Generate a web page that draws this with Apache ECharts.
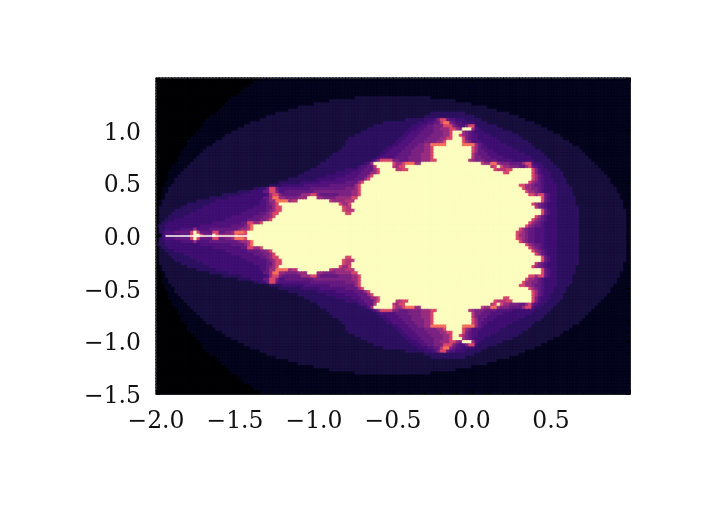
<!DOCTYPE html>
<html><head><meta charset="utf-8">
<style>html,body{margin:0;padding:0;background:#fff}#c{width:708px;height:509px}</style>
<script src="https://cdn.jsdelivr.net/npm/echarts@6/dist/echarts.min.js"></script>
</head><body><div id="c"></div>
<script>
const xTicks=[-2,1];
const yTicks=[-1.5,1.5];
const levelColors=['#000004','#04041c','#170f3c','#2d1160','#3f0f72','#51127c','#641a80','#7b2382','#982d80','#b73779','#d9466b','#f7705c','#fcfdbf'];
const columnCount=150;
// thin bright filament along the real axis
const filamentX=[-1.94,-1.4];
const filamentY=[0,0];
// escape-band runs, one row per line from top to the centre line: "level:endColumn"
const upperRows=[
"0:33 1:150","0:31 1:150","0:30 1:150","0:28 1:150","0:27 1:150","0:26 1:150",
"0:24 1:63 2:87 1:150","0:23 1:55 2:95 1:150","0:22 1:50 2:100 1:150","0:21 1:45 2:105 1:150","0:20 1:42 2:108 1:150",
"0:19 1:38 2:87 3:98 2:112 1:150",
"0:17 1:35 2:85 3:101 2:115 1:150",
"0:16 1:33 2:79 3:85 4:88 5:89 7:90 a:92 6:93 5:95 4:98 3:103 2:117 1:150",
"0:15 1:30 2:72 3:83 4:86 5:88 6:90 9:91 b:93 7:94 6:95 5:97 4:101 3:105 2:120 1:150",
"0:15 1:28 2:69 3:81 4:84 5:86 6:88 7:91 a:94 7:95 6:96 5:98 7:99 a:101 4:102 3:108 2:122 1:150",
"0:14 1:26 2:67 3:80 4:83 5:85 6:88 7:90 8:93 a:95 8:96 7:97 c:100 8:101 5:102 4:103 3:110 2:124 1:150",
"0:13 1:24 2:65 3:79 4:81 5:84 6:88 7:91 8:93 a:94 c:97 8:98 7:99 6:100 5:101 4:104 3:113 2:126 1:150",
"0:12 1:22 2:63 3:78 4:80 5:83 6:87 7:91 8:93 a:94 c:96 a:97 8:98 7:99 6:100 5:102 4:106 3:115 2:128 1:150",
"0:11 1:21 2:61 3:77 4:79 5:82 6:86 7:90 8:92 a:94 c:97 a:98 7:99 6:100 5:102 4:108 3:116 2:129 1:150",
"0:10 1:19 2:60 3:76 4:78 5:81 6:85 7:89 8:91 a:92 c:97 a:98 8:99 7:100 5:103 4:109 3:118 2:131 1:150",
"0:10 1:18 2:60 3:75 4:77 5:80 6:83 7:85 8:87 b:92 c:97 b:101 8:102 6:103 5:104 4:111 3:119 2:132 1:150",
"0:9 1:16 2:59 3:73 4:75 5:79 6:82 7:85 8:87 a:88 c:100 a:101 8:102 6:103 5:105 4:113 3:120 2:134 1:150",
"0:8 1:15 2:58 3:72 4:74 5:78 6:81 7:85 8:87 a:88 c:100 a:101 8:102 6:104 5:107 4:115 3:122 2:135 1:150",
"0:8 1:14 2:56 3:71 4:73 5:77 6:81 7:84 8:87 a:88 c:100 9:101 7:102 6:105 5:108 4:117 3:123 2:136 1:150",
"0:7 1:13 2:55 3:70 4:71 5:76 6:80 7:84 8:87 a:88 c:100 9:101 7:103 6:106 5:110 4:119 3:124 2:137 1:150",
"0:7 1:12 2:54 3:68 4:69 5:70 7:71 a:75 7:77 6:80 7:84 8:87 a:89 c:99 9:100 8:101 7:104 6:108 5:113 4:120 3:125 2:138 1:150",
"0:6 1:11 2:52 3:66 4:67 5:68 8:69 c:75 a:76 8:78 a:79 b:82 8:84 c:103 9:104 8:106 b:108 8:109 7:112 6:116 8:117 a:119 5:120 4:122 3:126 2:139 1:150",
"0:5 1:10 2:51 3:64 4:65 5:67 6:69 9:70 c:75 9:76 8:77 a:79 c:106 9:107 a:108 c:109 a:110 8:112 7:115 6:117 8:118 a:119 6:120 5:121 4:123 3:127 2:140 1:150",
"0:5 1:9 2:49 3:60 4:64 5:66 6:69 8:70 a:71 c:76 9:78 a:80 c:107 a:108 9:111 a:113 c:119 a:120 7:121 5:122 4:124 3:128 2:141 1:150",
"0:4 1:8 2:47 3:57 4:62 5:65 6:68 8:70 a:71 c:110 a:112 c:119 a:120 7:121 5:122 4:125 3:129 2:142 1:150",
"0:4 1:7 2:45 3:54 4:60 5:64 6:67 8:68 a:69 c:119 a:120 8:121 6:122 5:123 4:125 3:129 2:143 1:150",
"0:4 1:6 2:42 3:51 4:57 5:63 6:66 8:67 a:68 c:119 a:120 8:121 6:122 5:123 4:126 3:130 2:144 1:150",
"0:3 1:6 2:39 3:46 4:52 5:60 6:64 8:65 a:66 c:118 a:119 8:120 7:121 6:122 5:123 4:126 3:130 2:144 1:150",
"0:3 1:5 2:36 3:40 4:47 5:55 6:63 8:64 a:65 c:115 a:117 8:119 7:120 6:122 5:123 4:127 3:131 2:145 1:150",
"0:2 1:4 2:31 3:33 4:35 6:36 a:38 6:39 5:49 6:60 7:63 8:64 a:65 c:116 a:117 8:119 7:121 6:122 5:123 4:127 3:132 2:146 1:150",
"0:2 1:4 2:26 3:30 4:34 6:36 a:38 7:39 5:41 6:50 7:62 8:64 a:65 c:117 a:118 8:120 7:121 6:122 5:123 4:127 3:132 2:146 1:150",
"0:2 1:3 2:21 3:27 4:35 5:36 8:37 a:39 7:40 6:46 8:49 a:51 7:52 6:58 7:62 8:64 a:65 c:118 a:120 8:121 a:123 6:124 5:125 4:127 3:132 2:147 1:150",
"0:2 1:3 2:17 3:23 4:34 6:36 8:37 b:39 8:41 7:45 8:48 c:51 8:53 7:57 8:62 a:64 c:122 a:123 6:124 5:125 4:127 3:133 2:147 1:150",
"0:1 1:2 2:13 3:19 4:33 5:35 6:36 8:38 b:42 8:43 9:45 c:55 9:56 8:60 9:63 c:122 a:123 6:124 5:125 4:127 3:133 2:148 1:150",
"0:1 1:2 2:10 3:17 4:33 5:35 6:36 7:37 8:38 a:39 c:58 a:59 8:61 a:62 c:119 a:120 8:121 7:122 6:123 5:124 4:127 3:133 2:148 1:150",
"0:1 2:8 3:15 4:31 5:35 6:37 8:38 a:40 c:59 a:60 9:62 c:120 9:121 7:122 6:123 5:124 4:127 3:134 2:148 1:150",
"0:1 2:6 3:13 4:29 5:35 6:36 7:37 8:38 a:40 c:59 a:60 9:63 c:122 a:123 6:124 5:125 4:127 3:134 2:149 1:150",
"0:1 2:5 3:11 4:27 5:33 6:35 7:36 8:37 a:39 c:60 a:62 c:122 a:123 6:124 5:125 4:127 3:134 2:149 1:150",
"0:1 2:4 3:9 4:24 5:31 6:34 7:36 8:37 a:38 c:120 a:121 8:122 6:123 5:124 4:127 3:134 2:149 1:150",
"0:1 2:3 3:6 4:22 5:29 6:33 7:35 8:36 a:37 c:119 a:120 8:121 7:122 6:123 5:124 4:127 3:134 2:149 1:150",
"0:1 2:2 3:4 4:18 5:27 6:29 a:31 8:33 a:34 c:118 a:119 8:120 7:121 6:122 5:123 4:127 3:134 2:149 1:150",
"2:1 3:3 4:14 5:24 6:28 7:29 9:30 b:31 c:117 a:118 8:119 7:120 6:122 5:123 4:127 3:134 2:149 1:150",
"0:1 3:3 4:8 5:12 8:13 5:17 6:26 7:27 8:29 9:30 b:31 c:115 a:116 8:117 7:118 6:120 5:123 4:127 3:134 2:149 1:150",
"0:1 3:2 4:3 5:6 6:11 a:12 c:13 a:14 6:18 a:20 6:22 7:24 8:25 b:28 a:29 c:114 a:115 9:116 8:117 7:118 6:120 5:123 4:127 3:134 2:149 1:150"
];
const centreRow="0:1 1:2 4:3 5:8 6:11 a:12 c:14 a:15 7:18 c:19 a:20 8:25 b:26 a:29 c:114 a:115 8:117 7:118 6:120 5:123 4:127 3:134 2:149 1:150";
const rows=[...upperRows,centreRow,...upperRows.slice().reverse()];

const cells=[];
rows.forEach((r,j)=>{
  let start=0;
  r.split(' ').forEach(run=>{
    const [lv,end]=run.split(':');
    const level=parseInt(lv,16), stop=+end, col=levelColors[level];
    for(let i=start;i<stop;i++) cells.push({value:[i,j,level],itemStyle:{color:col,borderColor:col,borderWidth:0.7}});
    start=stop;
  });
});
const xCats=Array.from({length:columnCount},(_,i)=>i);
const yCats=rows.map((_,j)=>j);
const fmt=v=>v.toFixed(1).replace('-','\u2212');
const labelFont={fontFamily:'"DejaVu Serif",serif',fontSize:23.5,color:'#111'};
const frame={lineStyle:{color:'#222',width:1}};
const ticks={show:true,inside:true,length:4,lineStyle:{color:'#000',width:1}};
const minor={show:true,splitNumber:5,length:2,lineStyle:{color:'#000',width:1}};
const box={left:156,top:78,width:474,height:316};
const chart=echarts.init(document.getElementById('c'),null,{renderer:'canvas'});
chart.setOption({
  animation:false,backgroundColor:'#fff',
  grid:[Object.assign({},box),Object.assign({},box)],
  xAxis:[
    {type:'category',gridIndex:0,data:xCats,show:false},
    {type:'value',gridIndex:1,position:'bottom',min:xTicks[0],max:xTicks[1],interval:.5,axisLine:{onZero:false,...frame},axisTick:ticks,minorTick:minor,splitLine:{show:false},z:5,
     axisLabel:{...labelFont,margin:16,showMaxLabel:false,formatter:fmt}},
    {type:'value',gridIndex:1,position:'top',min:xTicks[0],max:xTicks[1],interval:.5,axisLine:{onZero:false,...frame},axisTick:ticks,minorTick:minor,splitLine:{show:false},z:5,axisLabel:{show:false}}
  ],
  yAxis:[
    {type:'category',gridIndex:0,data:yCats,inverse:true,show:false},
    {type:'value',gridIndex:1,position:'left',min:yTicks[0],max:yTicks[1],interval:.5,axisLine:{onZero:false,...frame},axisTick:ticks,minorTick:minor,splitLine:{show:false},z:5,
     axisLabel:{...labelFont,margin:15,showMaxLabel:false,verticalAlign:'top',lineHeight:6,formatter:fmt}},
    {type:'value',gridIndex:1,position:'right',min:yTicks[0],max:yTicks[1],interval:.5,axisLine:{onZero:false,...frame},axisTick:ticks,minorTick:minor,splitLine:{show:false},z:5,axisLabel:{show:false}}
  ],
  series:[
    {type:'heatmap',xAxisIndex:0,yAxisIndex:0,data:cells,progressive:0,emphasis:{disabled:true}},
    {type:'line',xAxisIndex:1,yAxisIndex:1,data:filamentX.map((x,i)=>[x,filamentY[i]]),symbol:'none',silent:true,z:4,lineStyle:{color:'#fffff0',width:1.3}}
  ]
});
</script></body></html>
